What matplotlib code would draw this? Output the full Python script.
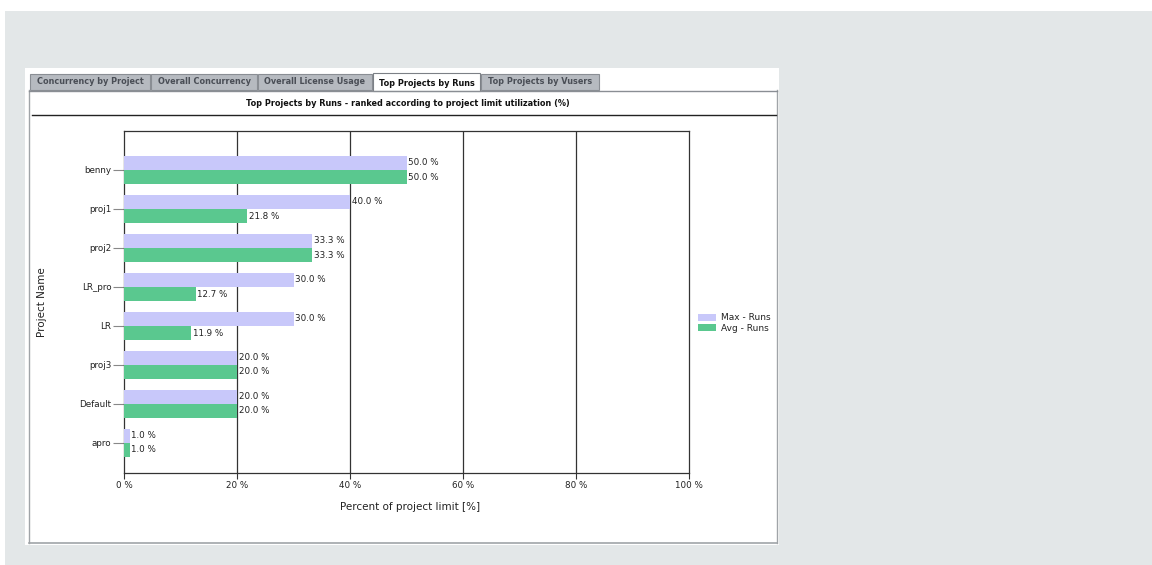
import numpy as np
import matplotlib
matplotlib.use('Agg')
import matplotlib.pyplot as plt
from matplotlib.patches import Rectangle
from matplotlib.lines import Line2D

# Chart data
projects = ['benny', 'proj1', 'proj2', 'LR_pro', 'LR', 'proj3', 'Default', 'apro']
max_runs = [50.0, 40.0, 33.3, 30.0, 30.0, 20.0, 20.0, 1.0]
avg_runs = [50.0, 21.8, 33.3, 12.7, 11.9, 20.0, 20.0, 1.0]
x_ticks = [0, 20, 40, 60, 80, 100]
x_tick_labels = ['0 %', '20 %', '40 %', '60 %', '80 %', '100 %']
tab_names = ['Concurrency by Project', 'Overall Concurrency', 'Overall License Usage',
             'Top Projects by Runs', 'Top Projects by Vusers']

W, H = 1152, 565
fig = plt.figure(figsize=(W / 100, H / 100), dpi=100)
fig.patch.set_facecolor('white')


def px(x, y):
    # pixel coords (top-left origin) -> figure fraction
    return x / W, 1 - y / H


def rect(x0, y0, x1, y1, **kw):
    fx, fy = px(x0, y1)
    fig.add_artist(Rectangle((fx, fy), (x1 - x0) / W, (y1 - y0) / H,
                             transform=fig.transFigure, zorder=-10, **kw))


def hline(x0, x1, y, **kw):
    fig.add_artist(Line2D([x0 / W, x1 / W], [1 - y / H, 1 - y / H],
                          transform=fig.transFigure, zorder=-5, **kw))


def vline(x, y0, y1, **kw):
    fig.add_artist(Line2D([x / W, x / W], [1 - y0 / H, 1 - y1 / H],
                          transform=fig.transFigure, zorder=-5, **kw))


# page background and white panel
rect(5, 11, 1152, 565, facecolor='#e3e7e8', edgecolor='none')
rect(25, 68, 779, 545, facecolor='white', edgecolor='none')
vline(29, 90, 543, color='#a0a4a8', lw=1)
vline(777, 90, 543, color='#a0a4a8', lw=1)
hline(29, 777, 543, color='#a0a4a8', lw=1.2)
hline(29, 777, 90.5, color='#8a8e94', lw=1)

# tabs
tab_edges = [30, 151, 258, 373, 481, 600]
for i, name in enumerate(tab_names):
    x0, x1 = tab_edges[i], tab_edges[i + 1] - 1
    active = name == 'Top Projects by Runs'
    if active:
        rect(x0, 73, x1, 91, facecolor='white', edgecolor='#7c8086', lw=0.8)
        color = '#111111'
    else:
        rect(x0, 74, x1, 90, facecolor='#b6bac0', edgecolor='#8a8e94', lw=0.8)
        color = '#4a4e56'
    fx, fy = px((x0 + x1) / 2, 82 if not active else 83)
    fig.text(fx, fy, name, ha='center', va='center', fontsize=5.9,
             fontweight='bold', color=color)

# chart title and separator line
fx, fy = px(408, 104)
fig.text(fx, fy, 'Top Projects by Runs - ranked according to project limit utilization (%)',
         ha='center', va='center', fontsize=5.9, fontweight='bold', color='#111111')
hline(32, 776, 115, color='#222222', lw=1)

# main plot area
ax_l, ax_r, ax_t, ax_b = 124, 689, 131, 473
ax_w, ax_hgt = ax_r - ax_l, ax_b - ax_t
ax = fig.add_axes([ax_l / W, 1 - ax_b / H, ax_w / W, ax_hgt / H])
ax.set_zorder(5)
ax.set_facecolor('white')

pos = np.arange(len(projects))
bar_h = 0.36
ax.barh(pos - bar_h / 2, max_runs, height=bar_h, color='#c8c8fa',
        edgecolor='none', label='Max - Runs', zorder=3)
ax.barh(pos + bar_h / 2, avg_runs, height=bar_h, color='#5ac88f',
        edgecolor='none', label='Avg - Runs', zorder=3)

for p, v in zip(pos, max_runs):
    ax.text(v + 0.3, p - bar_h / 2, '%.1f %%' % v, va='center', ha='left',
            fontsize=6.3, color='#222222', zorder=4)
for p, v in zip(pos, avg_runs):
    ax.text(v + 0.3, p + bar_h / 2, '%.1f %%' % v, va='center', ha='left',
            fontsize=6.3, color='#222222', zorder=4)

ax.set_xlim(0, 100)
ax.set_ylim(7.77, -1.0)
ax.set_xticks(x_ticks)
ax.set_xticklabels(x_tick_labels, fontsize=6.3, color='#222222')
ax.set_yticks(pos)
ax.set_yticklabels(projects, fontsize=6.3, color='#222222')
ax.tick_params(axis='y', length=8, width=0.8, color='#888888', pad=1)
ax.tick_params(axis='x', length=4, width=0.8, color='#333333', pad=2)

for g in x_ticks[1:-1]:
    ax.axvline(g, color='#333333', lw=0.9, zorder=1)
for s in ax.spines.values():
    s.set_color('#333333')
    s.set_linewidth(0.9)

ax.set_xlabel('Percent of project limit [%]', fontsize=7.5, color='#222222')
ax.xaxis.set_label_coords((410 - ax_l) / ax_w, -(507 - ax_b) / ax_hgt)
ax.xaxis.label.set_va('center')
ax.set_ylabel('Project Name', fontsize=7.5, color='#222222')
ax.yaxis.set_label_coords((42 - ax_l) / ax_w, (ax_b - 302) / ax_hgt)
ax.yaxis.label.set_va('center')

leg = fig.legend(loc='upper left', bbox_to_anchor=(692 / W, 1 - 307 / H),
                 frameon=False, fontsize=6.5, handlelength=2.0, handleheight=0.8,
                 handletextpad=0.5, labelspacing=0.15, borderpad=0.2)
for t in leg.get_texts():
    t.set_color('#222222')

fig.savefig('out.png', dpi=100)
